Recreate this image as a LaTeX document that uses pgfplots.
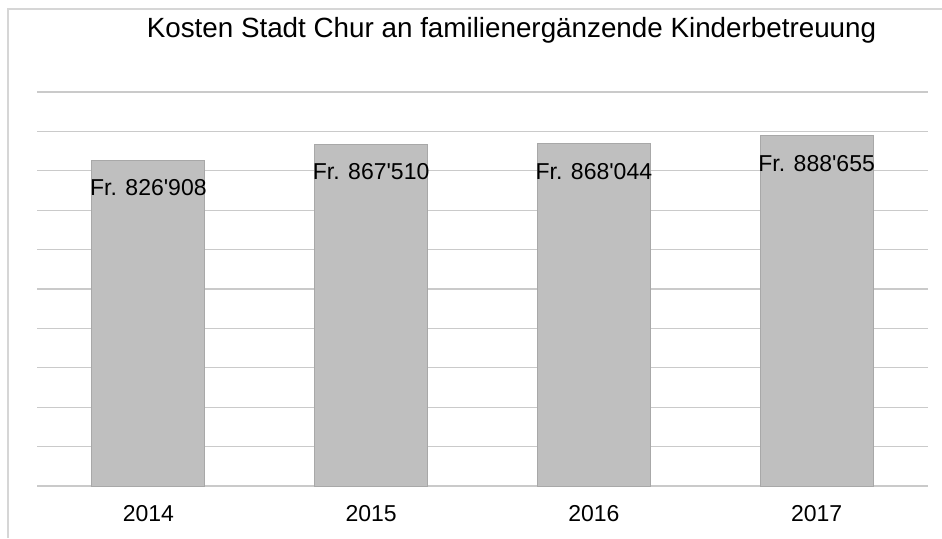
\documentclass[border=0pt]{standalone}
\usepackage{pgfplots}
\pgfplotsset{compat=1.18}
\usepackage{fontspec}
\setmainfont{Liberation Sans}
\definecolor{barfill}{HTML}{BFBFBF}
\definecolor{baredge}{HTML}{A8A8A8}
\definecolor{gridc}{HTML}{CACACA}
\definecolor{framec}{HTML}{D6D6D6}
\begin{document}
\begin{tikzpicture}[x=1pt,y=1pt]
\useasboundingbox (0,0) rectangle (942,538);
\draw[framec, line width=1.5pt] (8,0) -- (8,529) -- (942,529);
\node[anchor=base, font=\fontsize{27.8}{33}\selectfont] at (511.5,500) {Kosten Stadt Chur an familienergänzende Kinderbetreuung};
\begin{axis}[
 at={(37pt,52pt)}, anchor=south west, scale only axis,
 width=891pt, height=394pt,
 xmin=-0.5, xmax=3.5, ymin=0, ymax=1000000,
 ytick={0,100000,...,1000000}, yticklabels={}, scaled y ticks=false,
 ymajorgrids, grid style={gridc, line width=1.3pt},
 axis line style={draw=none},
 major tick length=0pt,
 /pgf/number format/assume math mode=true,
 xtick=data, xticklabels={2014,2015,2016,2017},
 xticklabel style={font=\fontsize{23}{28}\selectfont, yshift=-16pt},
 ybar, bar width=113pt,
 nodes near coords, point meta=explicit symbolic,
 every node near coord/.append style={font=\fontsize{23}{28}\selectfont, anchor=center, yshift=-27.5pt, text=black},
]
\addplot[fill=barfill, draw=baredge, line width=1pt] coordinates {
 (0,826908) [Fr. 826\textquotesingle 908]
 (1,867510) [Fr. 867\textquotesingle 510]
 (2,868044) [Fr. 868\textquotesingle 044]
 (3,888655) [Fr. 888\textquotesingle 655]
};
\end{axis}
\end{tikzpicture}
\end{document}
